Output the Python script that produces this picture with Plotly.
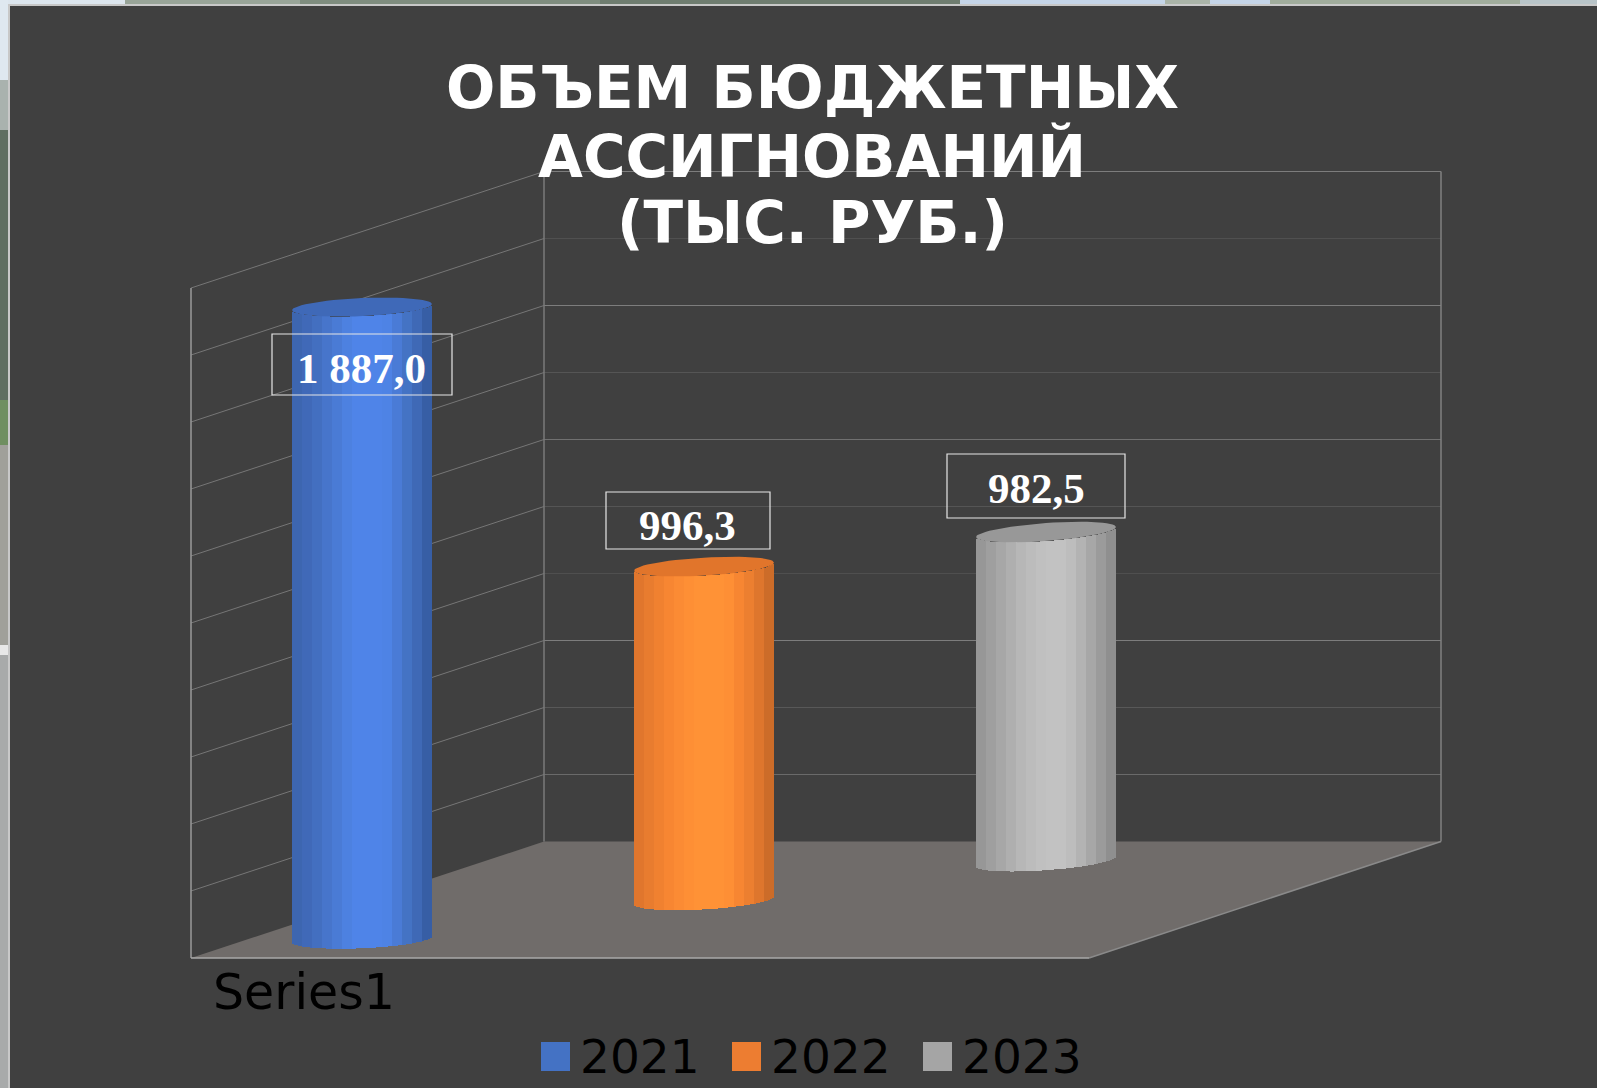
import math
import plotly.graph_objects as go

# ---- data ----
years = ["2021", "2022", "2023"]
values = [1887.0, 996.3, 982.5]
value_labels = ["1 887,0", "996,3", "982,5"]
category_label = "Series1"
title_lines = ["ОБЪЕМ БЮДЖЕТНЫХ", "АССИГНОВАНИЙ", "(ТЫС. РУБ.)"]
axis_ticks = [0, 200, 400, 600, 800, 1000, 1200, 1400, 1600, 1800, 2000]

# ---- style ----
W, H = 1597, 1088
K = 0.3350                    # pixels per value unit
BG = "#404040"
legend_colors = ["#4472c4", "#ed7d31", "#a5a5a5"]
top_colors = ["#3f69b8", "#e1752b", "#989898"]
side_stops = [
    ["#3d66b0", "#4069b8", "#436fc0", "#4775cb", "#4a7bd5", "#4d81e0", "#4f84e8", "#4f84e8",
     "#4f84e8", "#4e83e5", "#4a7bd6", "#4473c4", "#3f69b6", "#375ea5"],
    ["#e0762d", "#e87c2f", "#f08130", "#f78632", "#fb8b34", "#fe8f35", "#ff9236", "#ff9236",
     "#ff9236", "#fe8f35", "#f78632", "#ec7f30", "#de762d", "#cc6c29"],
    ["#979797", "#9f9f9f", "#a7a7a7", "#afafaf", "#b7b7b7", "#bcbcbc", "#c0c0c0", "#c2c2c2",
     "#c2c2c2", "#bdbdbd", "#b3b3b3", "#a7a7a7", "#9b9b9b", "#8f8f8f"],
]
bar_centers = [362, 704, 1046]
bar_half = 70
center_base = [444, 560, 677]  # depth offset of each cylinder on the tilted floor
tilt_px = [6, 8, 10]
ell_b_px = 9
back_floor_px, front_floor_px = 841.5, 958
back_l, back_r, front_l, front_r = 544, 1441, 191, 1089
label_boxes = [(272, 452, 334, 395), (606, 770, 492, 549), (947, 1125, 454, 518)]
label_text_y = [368, 525, 488]
label_text_x = [361.5, 687, 1036]
back_grid_colors = ["#555555", "#6a6a6a", "#585858", "#7d7d7d", "#4f4f4f", "#555555", "#707070",
                    "#555555", "#7d7d7d", "#505050", "#7d7d7d"]
legend_sw = [541, 732, 923]
legend_tx = [578, 769, 960]


def yd(px):
    return (H - px) / K


shapes = []
# walls and floor, positioned by the value axis
shapes.append(dict(type="path", layer="below", line=dict(width=0), fillcolor="#706c6a",
                   path=f"M{front_l},{yd(front_floor_px)} L{front_r},{yd(front_floor_px)} "
                        f"L{back_r},{yd(back_floor_px)} L{back_l},{yd(back_floor_px)} Z"))
for i, t in enumerate(axis_ticks):
    yb = yd(back_floor_px) + t
    yf = yd(front_floor_px) + t
    if t > 0:
        shapes.append(dict(type="line", layer="below", x0=back_l, x1=back_r, y0=yb, y1=yb,
                           line=dict(color=back_grid_colors[i], width=1)))
        shapes.append(dict(type="line", layer="below", x0=front_l, x1=back_l, y0=yf, y1=yb,
                           line=dict(color="#767676", width=1)))
top_b = yd(back_floor_px) + axis_ticks[-1]
top_f = yd(front_floor_px) + axis_ticks[-1]
for x0, y0, x1, y1, c in [
    (back_l, yd(back_floor_px), back_l, top_b, "#7a7a7a"),
    (back_r, yd(back_floor_px), back_r, top_b, "#808080"),
    (front_l, yd(front_floor_px), front_l, top_f, "#9a9a9a"),
    (front_l, yd(front_floor_px), front_r, yd(front_floor_px), "#a8a8a8"),
    (front_r, yd(front_floor_px), back_r, yd(back_floor_px), "#8a8a8a"),
]:
    shapes.append(dict(type="line", layer="below", x0=x0, x1=x1, y0=y0, y1=y1,
                       line=dict(color=c, width=1.5)))

# label frames
for (x0, x1, y0, y1) in label_boxes:
    shapes.append(dict(type="rect", layer="above", x0=x0, x1=x1, y0=yd(y0), y1=yd(y1),
                       line=dict(color="#e6e6e6", width=1.2)))
# legend swatches
for x0, c in zip(legend_sw, legend_colors):
    shapes.append(dict(type="rect", layer="above", x0=x0, x1=x0 + 29, y0=yd(1042), y1=yd(1071),
                       fillcolor=c, line=dict(width=0)))


def paper_rect(px0, py0, px1, py1, c):
    shapes.append(dict(type="rect", layer="below", xref="paper", yref="paper",
                       x0=px0 / W, x1=px1 / W, y0=1 - py0 / H, y1=1 - py1 / H,
                       fillcolor=c, line=dict(width=0)))


# photo edge behind the dark panel
for y0, y1, c in [(0, 80, "#dfe8f0"), (80, 130, "#a9b2ae"), (130, 400, "#5f6e61"), (400, 445, "#6f8f60"),
                  (445, 645, "#a0a09a"), (645, 655, "#e8e8e8"), (655, 1088, "#a8aaaa")]:
    paper_rect(0, y0, 8, y1, c)
for x0, x1, c in [(8, 125, "#dde6ee"), (125, 300, "#98a498"), (300, 600, "#7f8d7f"), (600, 960, "#6f7d70"),
                  (960, 1165, "#c5d5e8"), (1165, 1210, "#aab4a8"), (1210, 1270, "#c5d5e8"),
                  (1270, 1520, "#a0ac9c"), (1520, 1597, "#b8c4c8")]:
    paper_rect(x0, 0, x1, 4, c)
paper_rect(8, 4, 10, H, "#c8c8c8")
paper_rect(8, 4, W, 6, "#c8c8c8")

fig = go.Figure()
N = 70
for i, name in enumerate(years):
    cx, base, val = bar_centers[i], center_base[i], values[i]
    slope = tilt_px[i] / K / 2
    b = ell_b_px / K
    step = 2 * bar_half / N
    xs, bases, cols = [], [], []
    for j in range(N):
        t = -1 + (j + 0.5) * 2 / N
        xs.append(cx + t * bar_half)
        bases.append(base + slope * t - b * math.sqrt(1 - t * t))
        band = min(int((t + 1) / 2 * len(side_stops[i])), len(side_stops[i]) - 1)
        cols.append(side_stops[i][band])
    fig.add_trace(go.Bar(x=xs, y=[val] * N, base=bases, width=[step] * N, name=name,
                         marker=dict(color=cols, line=dict(width=0)), showlegend=False,
                         hoverinfo="name+y"))
    ex, ey = [], []
    for d in range(0, 361, 6):
        th = math.radians(d)
        ex.append(cx + bar_half * math.cos(th))
        ey.append(base + val + slope * math.cos(th) + b * math.sin(th))
    fig.add_trace(go.Scatter(x=ex, y=ey, mode="lines", fill="toself", fillcolor=top_colors[i],
                             line=dict(width=0, color=top_colors[i]), showlegend=False, hoverinfo="skip"))

annotations = []
for txt, ypx in zip(title_lines, [88, 156, 223]):
    annotations.append(dict(x=812, y=yd(ypx), xref="x", yref="y", text=f"<b>{txt}</b>", showarrow=False,
                            xanchor="center", yanchor="middle",
                            font=dict(family="DejaVu Sans", size=58, color="white")))
for txt, x, ypx in zip(value_labels, label_text_x, label_text_y):
    annotations.append(dict(x=x, y=yd(ypx), xref="x", yref="y", text=f"<b>{txt}</b>", showarrow=False,
                            xanchor="center", yanchor="middle",
                            font=dict(family="Liberation Serif", size=43, color="white")))
annotations.append(dict(x=211, y=yd(992), xref="x", yref="y", text=category_label, showarrow=False,
                        xanchor="left", yanchor="middle",
                        font=dict(family="DejaVu Sans", size=49, color="black")))
for txt, x in zip(years, legend_tx):
    annotations.append(dict(x=x, y=yd(1056), xref="x", yref="y", text=txt, showarrow=False,
                            xanchor="left", yanchor="middle",
                            font=dict(family="DejaVu Sans", size=47, color="black")))

fig.update_layout(
    width=W, height=H, margin=dict(l=0, r=0, t=0, b=0, pad=0),
    paper_bgcolor=BG, plot_bgcolor="rgba(0,0,0,0)", barmode="overlay", bargap=0,
    xaxis=dict(visible=False, range=[0, W], fixedrange=True),
    yaxis=dict(visible=False, range=[0, H / K], fixedrange=True),
    shapes=shapes, annotations=annotations, showlegend=False,
)
fig.write_html("out.html", post_script="document.body.style.margin='0';document.body.style.overflow='hidden';",
               config=dict(displayModeBar=False))
